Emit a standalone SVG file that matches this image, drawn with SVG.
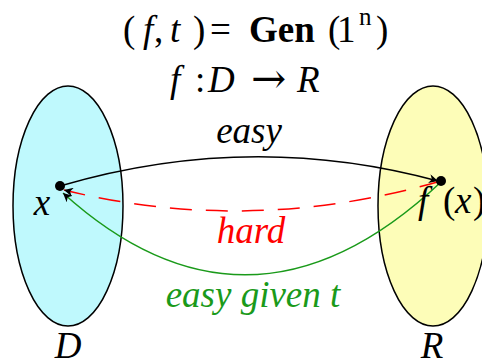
<svg xmlns="http://www.w3.org/2000/svg" width="482" height="362" viewBox="0 0 482 362">
<style>
text{font-family:"Liberation Serif","Times New Roman",serif;font-size:37px}
.i{font-style:italic}
.b{font-weight:bold}
.ell{stroke:#000;stroke-width:1.5}
.c{fill:none;stroke-width:1.5}
</style>
<defs>
<marker id="ak" viewBox="0 0 10 10" refX="10" refY="5" markerWidth="9" markerHeight="9" orient="auto" markerUnits="userSpaceOnUse"><path d="M0,0L10,5L0,10L3,5z" fill="#000"/></marker>
</defs>
<rect width="482" height="362" fill="#fff"/>
<g id="title">
<text y="42"><tspan x="123">(</tspan><tspan class="i" x="143">f</tspan><tspan x="154">,</tspan><tspan class="i" x="170">t</tspan><tspan x="193">)</tspan><tspan x="210">=</tspan><tspan class="b" x="249">Gen</tspan><tspan x="328">(</tspan><tspan x="337">1</tspan><tspan font-size="25" x="359" y="25">n</tspan><tspan x="376" y="42">)</tspan></text>
<text y="92"><tspan class="i" x="170">f</tspan><tspan x="195">:</tspan><tspan class="i" x="208">D</tspan><tspan font-family="DejaVu Serif" font-size="42" x="251" y="93">→</tspan><tspan class="i" x="297" y="92">R</tspan></text>
</g>
<g id="D">
<ellipse class="ell" cx="68" cy="206" rx="55" ry="120" fill="#bff9fd"/>
<text class="i" x="68" y="358" text-anchor="middle">D</text>
</g>
<g id="R">
<ellipse class="ell" cx="433" cy="206" rx="55" ry="120" fill="#fdfdb8"/>
<text class="i" x="432" y="358" text-anchor="middle">R</text>
</g>
<g id="connectors">
<path class="c" stroke="#000" d="M60,186 Q250,130 438,181" marker-end="url(#ak)"/>
<path class="c" stroke="#f00" stroke-dasharray="22,14" d="M441,181 Q250,236 64,190" marker-end="url(#ak)"/>
<path class="c" stroke="#1a9a1a" d="M441,182 Q250,362 63,193" marker-end="url(#ak)"/>
<text class="i" x="249" y="143" text-anchor="middle">easy</text>
<text class="i" x="251" y="243" text-anchor="middle" fill="#f00">hard</text>
<text class="i" x="253" y="307" text-anchor="middle" fill="#1a9a1a">easy given t</text>
</g>
<g id="x">
<circle cx="60" cy="186" r="5" fill="#000"/>
<text class="i" x="42" y="215" text-anchor="middle">x</text>
</g>
<g id="fx">
<circle cx="441" cy="181" r="5" fill="#000"/>
<text y="213"><tspan class="i" x="418">f</tspan><tspan x="443">(</tspan><tspan class="i" x="455">x</tspan><tspan x="473">)</tspan></text>
</g>
</svg>
